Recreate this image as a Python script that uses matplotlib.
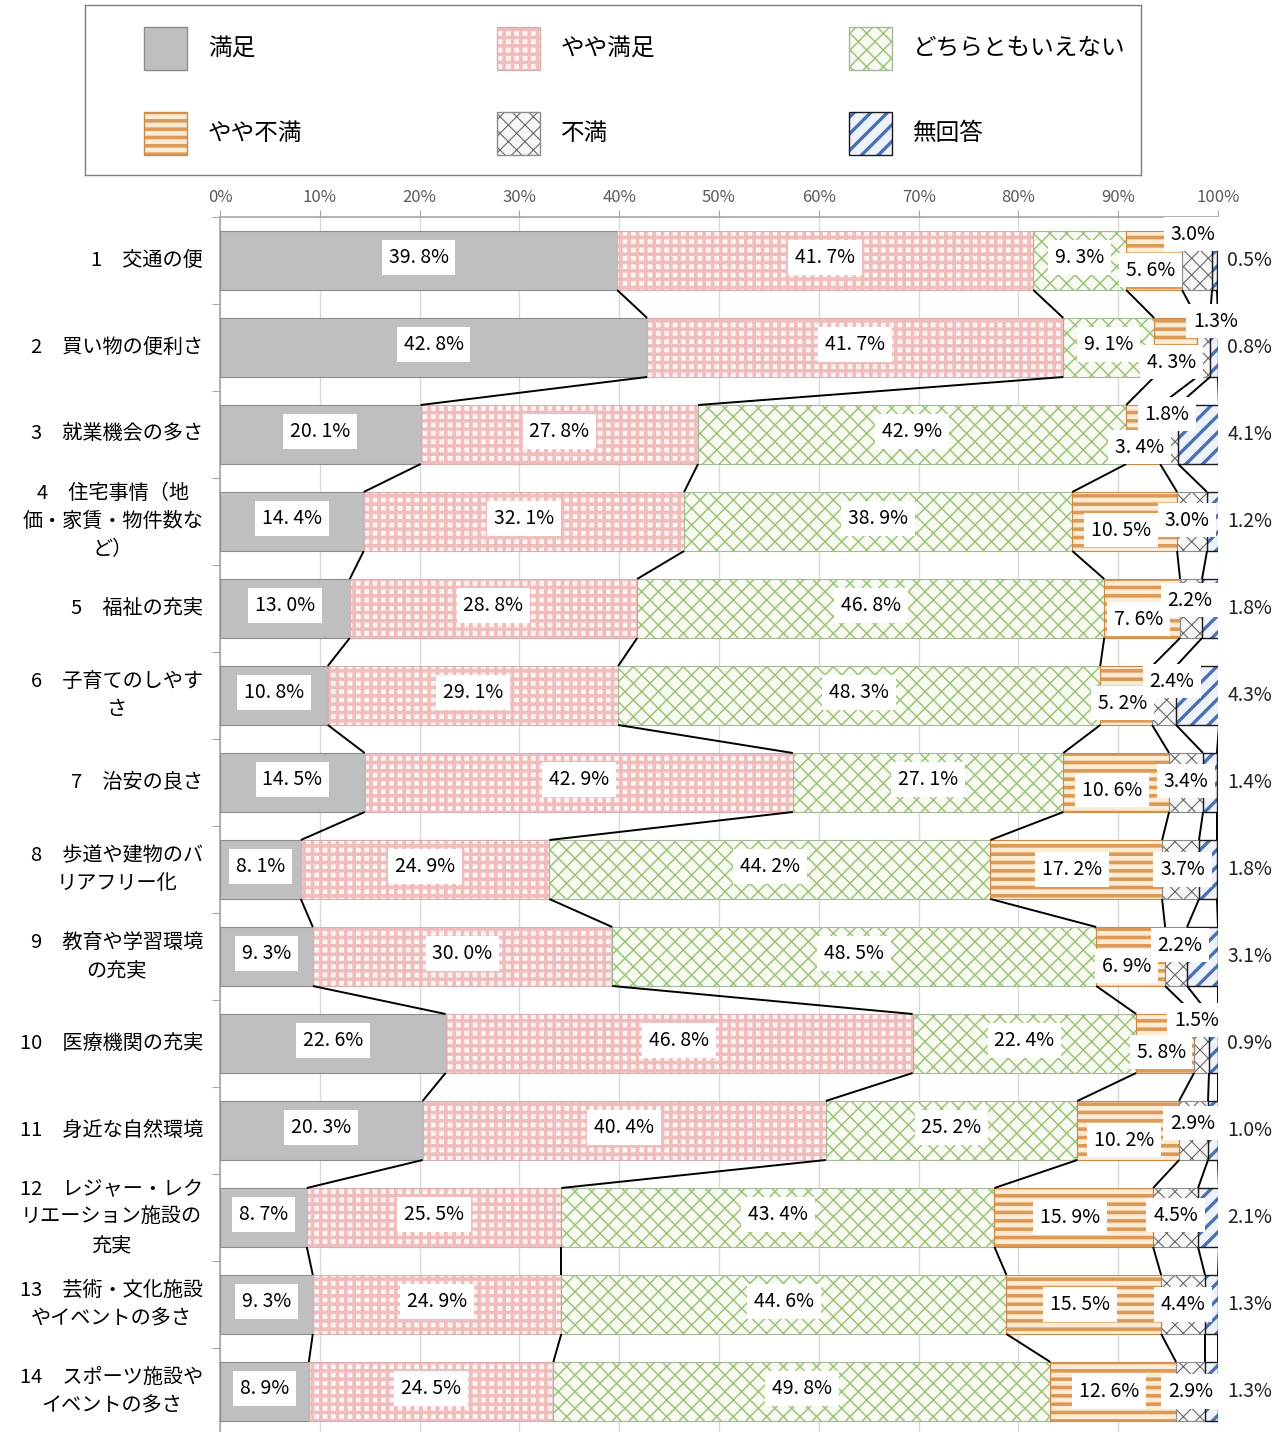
import matplotlib
matplotlib.use("Agg")
import matplotlib.pyplot as plt
import matplotlib.patches as patches
import numpy as np

plt.rcParams['font.family'] = ['Noto Sans CJK JP', 'DejaVu Sans']
plt.rcParams['hatch.linewidth'] = 1.0

# ---------- data ------------------------------------------------------------
CATEGORIES = [
    "1　交通の便",
    "2　買い物の便利さ",
    "3　就業機会の多さ",
    "4　住宅事情（地\n価・家賃・物件数な\nど）",
    "5　福祉の充実",
    "6　子育てのしやす\nさ",
    "7　治安の良さ",
    "8　歩道や建物のバ\nリアフリー化",
    "9　教育や学習環境\nの充実",
    "10　医療機関の充実",
    "11　身近な自然環境",
    "12　レジャー・レク\nリエーション施設の\n充実",
    "13　芸術・文化施設\nやイベントの多さ",
    "14　スポーツ施設や\nイベントの多さ",
]
SERIES = ["満足", "やや満足", "どちらともいえない", "やや不満", "不満", "無回答"]

satisfied = [39.8, 42.8, 20.1, 14.4, 13.0, 10.8, 14.5, 8.1, 9.3, 22.6, 20.3, 8.7, 9.3, 8.9]
rather_satisfied = [41.7, 41.7, 27.8, 32.1, 28.8, 29.1, 42.9, 24.9, 30.0, 46.8, 40.4, 25.5, 24.9, 24.5]
neutral = [9.3, 9.1, 42.9, 38.9, 46.8, 48.3, 27.1, 44.2, 48.5, 22.4, 25.2, 43.4, 44.6, 49.8]
rather_dissatisfied = [5.6, 4.3, 3.4, 10.5, 7.6, 5.2, 10.6, 17.2, 6.9, 5.8, 10.2, 15.9, 15.5, 12.6]
dissatisfied = [3.0, 1.3, 1.8, 3.0, 2.2, 2.4, 3.4, 3.7, 2.2, 1.5, 2.9, 4.5, 4.4, 2.9]
no_answer = [0.5, 0.8, 4.1, 1.2, 1.8, 4.3, 1.4, 1.8, 3.1, 0.9, 1.0, 2.1, 1.3, 1.3]

# ---------- styles ----------------------------------------------------------
STYLES = [
    dict(face="#BFBFBF", hatch=None, hcol=None, edge="#8C8C8C"),
    dict(face="#FFF4F4", hatch="++", hcol="#F0BDBD", edge="#D8B0B0"),
    dict(face="#F6FAF1", hatch="xx", hcol="#9DC47C", edge="#A8B89A"),
    dict(face="#FDEBD3", hatch="--", hcol="#DB9A58", edge="#C98A4A"),
    dict(face="#F7F7F7", hatch="xx", hcol="#6A6A6A", edge="#8C8C8C"),
    dict(face="#EEF2FA", hatch="//", hcol="#4A6FB5", edge="#1A1A1A"),
]
HATCH_LW = [0, 2.6, 1.1, 2.6, 0.8, 2.4]

# vertical nudges (pixels) for the crowded labels
DY_RD = [9.5, 14.5, 12.5, 8.5, 10.5, 7.5, 7.5, 0, 9.5, 8.5, 9.5, 0, 0, 0]
DY_D = [-26.5, -26.5, -20.5, -1.5, -8.5, -14.5, -1.5, 0, -11.5, -23.5, -7.5, -2.5, 0, 0]
DX_D = [-0.4, 1.2, -0.2, -0.5, -0.1, 0.8, 0, 0.2, 0.4, -0.5, -0.1, 0, 0, 0]

W, H = 1286, 1432
fig = plt.figure(figsize=(W / 100, H / 100), dpi=100)
fig.patch.set_facecolor("white")

ROW_PX = 87.0
ax = fig.add_axes([220 / W, 1 - 1435 / H, 998 / W, 1218 / H])
n = len(CATEGORIES)
y = np.arange(n)
values = np.array([satisfied, rather_satisfied, neutral,
                   rather_dissatisfied, dissatisfied, no_answer])
cum = np.cumsum(values, axis=0)
left = np.vstack([np.zeros(n), cum[:-1]])
BAR_H = 59 / ROW_PX

for k, st in enumerate(STYLES):
    bars = ax.barh(y, values[k], left=left[k], height=BAR_H,
                   color=st["face"], edgecolor=st["hcol"] or st["face"],
                   linewidth=0, hatch=st["hatch"], zorder=2)
    if st["hatch"]:
        for b in bars:
            if hasattr(b, "set_hatch_linewidth"):
                b.set_hatch_linewidth(HATCH_LW[k])
    ax.barh(y, values[k], left=left[k], height=BAR_H, color="none",
            edgecolor=st["edge"], linewidth=1.0 if k == 5 else 0.8, zorder=3)

# series lines between bars
for k in range(6):
    for i in range(n - 1):
        ax.plot([cum[k, i], cum[k, i + 1]],
                [i + BAR_H / 2, i + 1 - BAR_H / 2],
                color="black", lw=1.4, zorder=4, solid_capstyle="butt")

ax.set_xlim(0, 100)
ax.set_ylim(n - 0.5, -0.5)
ax.xaxis.tick_top()
ax.set_xticks(np.arange(0, 101, 10))
ax.set_xticklabels([f"{v}%" for v in range(0, 101, 10)],
                   fontsize=12, color="#595959")
ax.tick_params(axis="x", length=5, color="#A6A6A6", pad=3)
ax.set_yticks(np.arange(-0.5, n, 1.0))
ax.set_yticklabels([])
ax.tick_params(axis="y", length=6, color="#A6A6A6")
ax.grid(axis="x", color="#D9D9D9", lw=1.0, zorder=0)
ax.set_axisbelow(True)
for s in ["right", "bottom"]:
    ax.spines[s].set_visible(False)
ax.spines["top"].set_color("#A6A6A6")
ax.spines["left"].set_color("#A6A6A6")
ax.spines["top"].set_linewidth(1.2)
ax.spines["left"].set_linewidth(1.2)

to_dy = 1.0 / ROW_PX
box = dict(boxstyle="square,pad=0.35", facecolor="white", edgecolor="none")
for i in range(n):
    # main segments
    for k in range(3):
        ax.text(left[k, i] + values[k, i] / 2, i - 3 * to_dy,
                f"{values[k, i]:.1f}".replace(".", ". ") + "%",
                ha="center", va="center", fontsize=14, bbox=box, zorder=6)
    # やや不満
    ax.text(left[3, i] + values[3, i] / 2 - 0.4, i + DY_RD[i] * to_dy,
            f"{values[3, i]:.1f}".replace(".", ". ") + "%",
            ha="center", va="center", fontsize=14, bbox=box, zorder=6)
    # 不満
    ax.text(left[4, i] + values[4, i] / 2 + DX_D[i], i + DY_D[i] * to_dy,
            f"{values[4, i]:.1f}%",
            ha="center", va="center", fontsize=14, bbox=box, zorder=7)
    # 無回答 (outside, right)
    ax.text(103.2, i, f"{values[5, i]:.1f}%", ha="center", va="center",
            fontsize=14, color="#222222", clip_on=False, zorder=6)
    # category label
    ax.text(-1.7, i, CATEGORIES[i], ha="right", va="center",
            multialignment="center", fontsize=14.5, linespacing=1.45,
            clip_on=False)

# ---------- legend ----------------------------------------------------------
lg = fig.add_axes([85 / W, 1 - 175 / H, (1141 - 85) / W, 170 / H])
lg.set_xlim(85, 1141)
lg.set_ylim(175, 5)
lg.set_xticks([])
lg.set_yticks([])
for s in lg.spines.values():
    s.set_color("#7F7F7F")
    s.set_linewidth(1.0)

LEG_X = [144, 497, 849, 144, 497, 849]
LEG_Y = [27, 27, 27, 112, 112, 112]
for k, st in enumerate(STYLES):
    x0, y0 = LEG_X[k], LEG_Y[k]
    p = patches.Rectangle((x0, y0), 43, 43, facecolor=st["face"],
                          edgecolor=st["hcol"] or st["face"], linewidth=0,
                          hatch=st["hatch"])
    if st["hatch"] and hasattr(p, "set_hatch_linewidth"):
        p.set_hatch_linewidth(HATCH_LW[k])
    lg.add_patch(p)
    lg.add_patch(patches.Rectangle((x0, y0), 43, 43, facecolor="none",
                                   edgecolor=st["edge"], linewidth=1.0))
    lg.text(x0 + 64, y0 + 21.5, SERIES[k], ha="left", va="center",
            fontsize=17)

fig.savefig("out.png", dpi=100, facecolor="white")
